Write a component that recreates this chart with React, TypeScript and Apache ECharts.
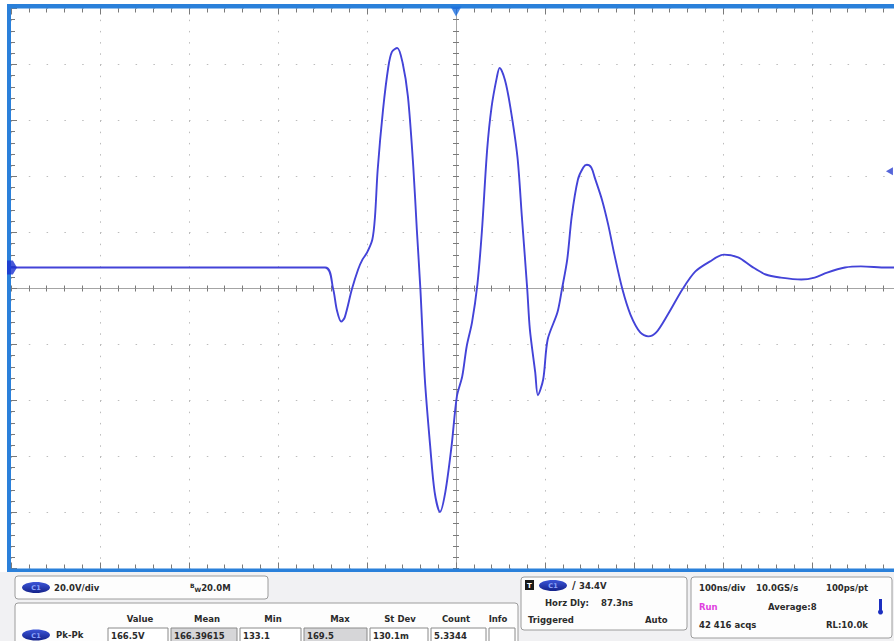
import { useEffect, useRef } from 'react';
import * as echarts from 'echarts';

// Waveform: time (ns, relative to trigger at screen centre) and volts (relative to ground)
const timeNs = [
  -500, -147, -138, -134, -129, -125, -117, -110, -105, -100,
  -94, -91, -88, -82, -76, -72, -66, -60, -54, -48,
  -44, -40, -35, -29, -24, -18, -12, -5, 1, 7,
  12, 18, 24, 29, 35, 40, 46, 49, 55, 61,
  69, 74, 80, 83, 89, 92, 98, 103, 114, 119,
  125, 130, 137, 143, 147, 152, 156, 164, 171, 178,
  187, 196, 207, 216, 225, 238, 255, 269, 285, 301,
  317, 332, 348, 365, 388, 403, 417, 437, 455, 484,
  500,
];
const voltsV = [
  0, 0, -7.8, -15, -19.3, -17.8, -7.8, -0.7, 2.9, 5.3,
  10, 18.2, 34.9, 56.3, 71.7, 77, 78.4, 73.1, 61, 36,
  13.5, -7.8, -39.9, -63.8, -80.2, -87.3, -80.2, -63.8, -46, -38.9,
  -28.2, -19.6, -6.1, 12.5, 42.1, 57.4, 68.1, 71.3, 67, 57.4,
  39.6, 18.2, -7.5, -22.1, -37.4, -45.6, -39.9, -25.7, -16, -7.8,
  2.9, 18.2, 31.4, 35.7, 36.7, 35.7, 32, 24.2, 15.3, 4.6,
  -7.8, -16.8, -23.2, -24.6, -23.2, -16.8, -7.5, -1.4, 2.1, 4.6,
  3.6, 0.4, -2.5, -3.6, -4.3, -3.6, -1.8, 0, 0.4, 0,
  0,
];

const triggerLevelV = 34.4;
const groundOffsetV = 7.5; // ground sits 0.375 div above screen centre
const voltsPerDiv = 20;
const nsPerDiv = 100;

const measHeaders = ['Value', 'Mean', 'Min', 'Max', 'St Dev', 'Count', 'Info'];
const measValues = ['166.5V', '166.39615', '133.1', '169.5', '130.1m', '5.3344', ''];

const FONT = '"DejaVu Sans", Verdana, sans-serif';
const BLUE = '#2a80da';

function txt(text: string, x: number, y: number, o: any = {}) {
  return {
    type: 'text', x, y, z: 30,
    style: {
      text,
      font: `${o.weight || 'bold'} ${o.size || 8.5}px ${FONT}`,
      fill: o.fill || '#2b2b2b',
      align: o.align || 'left',
      verticalAlign: 'middle',
    },
  };
}
function pill(cx: number, cy: number) {
  return [
    {
      type: 'ellipse', z: 25, shape: { cx, cy, rx: 14, ry: 5.5 },
      style: {
        fill: new echarts.graphic.LinearGradient(0, 0, 0, 1, [
          { offset: 0, color: '#3c55d8' }, { offset: 1, color: '#14228a' },
        ]),
      },
    },
    txt('C1', cx, cy + 0.5, { align: 'center', fill: '#8ea6ff', size: 6.5 }),
  ];
}
function box(x: number, y: number, w: number, h: number, fill = '#fdfdfd') {
  return {
    type: 'rect', z: 20, shape: { x, y, width: w, height: h, r: 3 },
    style: { fill, stroke: '#9c9c9c', lineWidth: 1 },
  };
}

export default function App() {
  const ref = useRef<HTMLDivElement>(null);
  useEffect(() => {
    if (!ref.current) return;
    const chart = echarts.init(ref.current, undefined, { renderer: 'svg' });

    const vMin = -5 * voltsPerDiv - groundOffsetV;
    const vMax = 5 * voltsPerDiv - groundOffsetV;
    const tMin = -5 * nsPerDiv;
    const tMax = 5 * nsPerDiv;

    const tick = { color: '#7a7a7a', width: 1 };
    const baseX = { type: 'value', min: tMin, max: tMax, interval: nsPerDiv, axisLabel: { show: false } };
    const baseY = { type: 'value', min: -5, max: 5, interval: 1, axisLabel: { show: false } };

    const cellX = [108, 171, 240, 304, 370, 431, 489];
    const cellW = [60, 66, 61, 63, 58, 55, 26];
    const headerX = [140, 207, 273, 340, 400, 456, 498];

    const graphics: any[] = [
      // panel background
      { type: 'rect', z: 10, shape: { x: 0, y: 572, width: 910, height: 69 }, style: { fill: '#f1f1f3' } },
      // blue frame bars
      { type: 'rect', z: 40, shape: { x: 7, y: 4, width: 4, height: 568 }, style: { fill: BLUE } },
      { type: 'rect', z: 40, shape: { x: 7, y: 4, width: 903, height: 4.5 }, style: { fill: BLUE } },
      { type: 'rect', z: 40, shape: { x: 7, y: 568.5, width: 903, height: 3.5 }, style: { fill: BLUE } },
      // box 1
      box(15, 576, 253, 23),
      ...pill(36, 587.5),
      txt('20.0V/div', 54, 587.5),
      {
        type: 'text', x: 190, y: 587.5, z: 30,
        style: {
          text: '{b|B}{w|W}{n|20.0M}',
          verticalAlign: 'middle',
          rich: {
            b: { font: `bold 6px ${FONT}`, fill: '#2b2b2b', padding: [0, 0, 5, 0] },
            w: { font: `bold 6px ${FONT}`, fill: '#2b2b2b', padding: [4, 0, 0, 0] },
            n: { font: `bold 8.5px ${FONT}`, fill: '#2b2b2b' },
          },
        },
      },
      // box 2 : measurements
      box(15, 603, 503, 48),
      ...measHeaders.map((h, i) => txt(h, headerX[i], 619, { align: 'center' })),
      ...pill(36, 635),
      txt('Pk-Pk', 56, 635),
      ...measValues.map((v, i) => ({
        type: 'rect', z: 22,
        shape: { x: cellX[i], y: 628, width: cellW[i], height: 16 },
        style: { fill: i === 1 || i === 3 ? '#d6d6d8' : '#ffffff', stroke: '#8a8a8a', lineWidth: 1 },
      })),
      ...measValues.map((v, i) => txt(v, cellX[i] + 3, 635.5)),
      // box 3 : trigger
      box(521, 577, 166, 53),
      { type: 'rect', z: 25, shape: { x: 525, y: 580, width: 9, height: 10 }, style: { fill: '#1a1a1a' } },
      txt('T', 529.5, 585.5, { align: 'center', fill: '#ffffff', size: 7 }),
      ...pill(553, 585.5),
      txt('/', 572, 585.5, { size: 10 }),
      txt('34.4V', 579, 585.5),
      txt('Horz Dly:', 545, 603),
      txt('87.3ns', 601, 603),
      txt('Triggered', 528, 620),
      txt('Auto', 645, 620),
      // box 4 : acquisition
      box(691, 577, 201, 61),
      txt('100ns/div', 699, 588),
      txt('10.0GS/s', 756, 588),
      txt('100ps/pt', 826, 588),
      txt('Run', 699, 606.5, { fill: '#e040e0' }),
      txt('Average:8', 768, 606.5),
      { type: 'rect', z: 25, shape: { x: 879, y: 599, width: 3, height: 11 }, style: { fill: '#1c2fc0' } },
      { type: 'circle', z: 25, shape: { cx: 880.5, cy: 612, r: 2.5 }, style: { fill: '#1c2fc0' } },
      txt('42 416 acqs', 699, 625),
      txt('RL:10.0k', 826, 625),
    ];

    chart.setOption({
      animation: false,
      backgroundColor: '#ffffff',
      grid: { left: 11, top: 8.5, width: 890, height: 560, containLabel: false },
      xAxis: [
        {
          ...baseX, position: 'bottom',
          axisLine: { onZero: true, onZeroAxisIndex: 0, lineStyle: { color: '#a4a4a4', width: 1 } },
          axisTick: { show: true, inside: false, length: 3, lineStyle: tick },
          minorTick: { show: true, splitNumber: 5, length: 3, lineStyle: tick },
          splitLine: { show: true, lineStyle: { color: '#bcbcbc', width: 1, type: [1.5, 9.7] } },
        },
        {
          ...baseX, position: 'top',
          axisLine: { onZero: true, onZeroAxisIndex: 0, lineStyle: { color: '#a4a4a4', width: 1 } },
          axisTick: { show: true, inside: false, length: 3, lineStyle: tick },
          minorTick: { show: true, splitNumber: 5, length: 3, lineStyle: tick },
          splitLine: { show: false },
        },
        {
          ...baseX, position: 'top',
          axisLine: { show: false, onZero: false },
          axisTick: { show: true, inside: true, length: 6, lineStyle: tick },
          minorTick: { show: true, splitNumber: 5, length: 4, lineStyle: tick },
          splitLine: { show: false },
        },
        {
          ...baseX, position: 'bottom',
          axisLine: { show: false, onZero: false },
          axisTick: { show: true, inside: true, length: 6, lineStyle: tick },
          minorTick: { show: true, splitNumber: 5, length: 4, lineStyle: tick },
          splitLine: { show: false },
        },
      ],
      yAxis: [
        {
          ...baseY, position: 'left',
          axisLine: { show: true, onZero: true, onZeroAxisIndex: 0, lineStyle: { color: '#a4a4a4', width: 1 } },
          axisTick: { show: true, inside: false, length: 3, lineStyle: tick },
          minorTick: { show: true, splitNumber: 5, length: 3, lineStyle: tick },
          splitLine: { show: true, lineStyle: { color: '#bcbcbc', width: 1, type: [1.5, 16.3] } },
        },
        {
          ...baseY, position: 'right',
          axisLine: { show: true, onZero: true, onZeroAxisIndex: 0, lineStyle: { color: '#a4a4a4', width: 1 } },
          axisTick: { show: true, inside: false, length: 3, lineStyle: tick },
          minorTick: { show: true, splitNumber: 5, length: 3, lineStyle: tick },
          splitLine: { show: false },
        },
        {
          ...baseY, position: 'left',
          axisLine: { show: false, onZero: false },
          axisTick: { show: true, inside: true, length: 6, lineStyle: tick },
          minorTick: { show: true, splitNumber: 5, length: 4, lineStyle: tick },
          splitLine: { show: false },
        },
        { type: 'value', min: vMin, max: vMax, show: false },
      ],
      series: [
        {
          type: 'line', xAxisIndex: 0, yAxisIndex: 3,
          data: timeNs.map((t, i) => [t, voltsV[i]]),
          showSymbol: false, smooth: 0.3,
          lineStyle: { color: '#4343d8', width: 1.9 },
          z: 5,
        },
        {
          type: 'scatter', xAxisIndex: 0, yAxisIndex: 3, clip: false, z: 50,
          data: [[tMin, 0]],
          symbol: 'path://M0,0 L7,0 L12,6 L7,12 L0,12 Z',
          symbolSize: [10, 14], symbolOffset: [1, 0],
          itemStyle: { color: '#1a2fd0' },
        },
        {
          type: 'scatter', xAxisIndex: 0, yAxisIndex: 3, clip: false, z: 50,
          data: [[0, vMax]],
          symbol: 'path://M0,0 L12,0 L6,10 Z',
          symbolSize: [11, 10], symbolOffset: [0, 3],
          itemStyle: { color: '#1a6ee0' },
        },
        {
          type: 'scatter', xAxisIndex: 0, yAxisIndex: 3, clip: false, z: 50,
          data: [[487, triggerLevelV]],
          symbol: 'path://M10,0 L0,5 L10,10 Z',
          symbolSize: [7, 8],
          itemStyle: { color: '#2a3fd0' },
        },
      ],
      graphic: graphics,
    });
    return () => chart.dispose();
  }, []);
  return (
    <div style={{ position: 'absolute', left: 0, top: 0, width: 894, height: 641, overflow: 'hidden' }}>
      <div ref={ref} style={{ position: 'absolute', left: 0, top: 0, width: 910, height: 641 }} />
    </div>
  );
}
